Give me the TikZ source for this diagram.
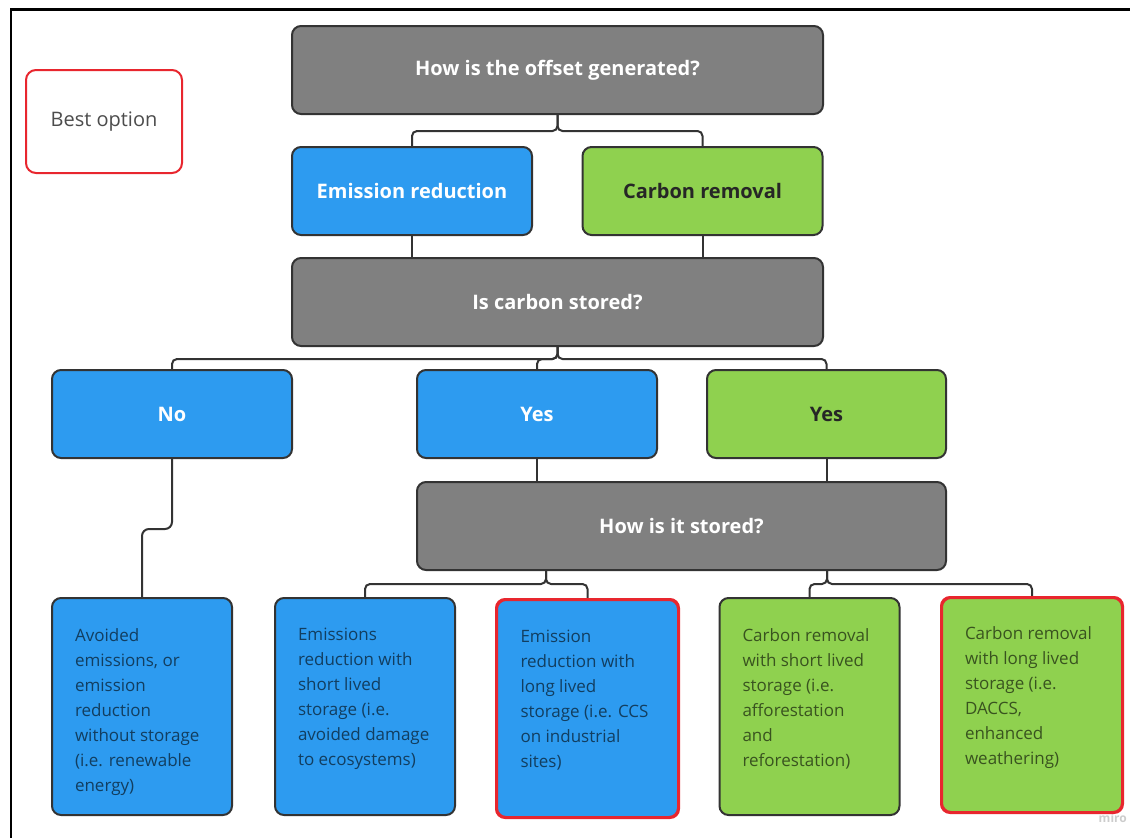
\documentclass[tikz,border=0pt]{standalone}
\usepackage{fontspec}
\setmainfont{Open Sans}
\usetikzlibrary{positioning,calc}

\definecolor{boxGray}{HTML}{808080}
\definecolor{boxBlue}{HTML}{2D9BF0}
\definecolor{boxGreen}{HTML}{8FD14F}
\definecolor{bestRed}{HTML}{E8262E}
\definecolor{lineDark}{HTML}{333333}

\newcommand{\leaftext}[1]{\parbox[c][198pt][t]{134pt}{\vspace*{21pt}\raggedright #1}}

\begin{document}
\begin{tikzpicture}[
  node distance=10pt,
  link/.style={draw=lineDark, line width=2pt, rounded corners=5pt},
  headtext/.style={font=\fontsize{20}{24}\selectfont\bfseries},
  bodytext/.style={font=\fontsize{17}{25}\selectfont, text=black, text opacity=0.6}
]
	\useasboundingbox (0,0) rectangle (1130pt,-838pt);

	\tikzstyle{question} = [rectangle, rounded corners=9pt, minimum width=531pt, minimum height=88pt, draw=lineDark, line width=2pt, fill=boxGray, text=white, headtext]
	\tikzstyle{answerBlue} = [rectangle, rounded corners=9pt, minimum width=240pt, minimum height=88pt, draw=lineDark, line width=2pt, fill=boxBlue, text=white, headtext]
	\tikzstyle{answerGreen} = [rectangle, rounded corners=9pt, minimum width=240pt, minimum height=88pt, draw=lineDark, line width=2pt, fill=boxGreen, text=black!85, headtext]
	\tikzstyle{leafBlue} = [rectangle, rounded corners=9pt, minimum width=180pt, minimum height=217pt, inner sep=0pt, draw=lineDark, line width=2pt, fill=boxBlue, bodytext]
	\tikzstyle{leafGreen} = [rectangle, rounded corners=9pt, minimum width=180pt, minimum height=217pt, inner sep=0pt, draw=lineDark, line width=2pt, fill=boxGreen, bodytext]
	\tikzstyle{best} = [draw=bestRed]

	% frame
	\draw[line width=2pt] (11pt,-838pt) -- (11pt,-9pt);
	\draw[line width=3pt] (10pt,-9pt) -- (1130pt,-9pt);

	% questions and answers
	\node (offsetQuestion) [question] at (557.5pt,-70pt) {How is the offset generated?};
	\node (emissionReduction) [answerBlue, below of=offsetQuestion, node distance=121pt, xshift=-145.5pt] {Emission reduction};
	\node (carbonRemoval) [answerGreen, right of=emissionReduction, node distance=290.5pt] {Carbon removal};
	\node (storedQuestion) [question, below of=offsetQuestion, node distance=232pt] {Is carbon stored?};

	\node (yesReduction) [answerBlue, below of=storedQuestion, node distance=112pt, xshift=-20.5pt] {Yes};
	\node (noStorage) [answerBlue, left of=yesReduction, node distance=365pt] {No};
	\node (yesRemoval) [answerGreen, right of=yesReduction, node distance=289.5pt, minimum width=239pt] {Yes};
	\node (howQuestion) [question, below of=yesReduction, node distance=112pt, xshift=144.5pt, minimum width=529pt] {How is it stored?};

	\node (bestOption) [rectangle, rounded corners=10pt, minimum width=156pt, minimum height=103pt, draw=bestRed, line width=2pt, fill=white, text=black!70, font=\fontsize{20}{24}\selectfont, left of=offsetQuestion, node distance=453.5pt, yshift=-51.5pt] {Best option};

	% storage leaves
	\node (leafShortReduction) [leafBlue, below of=howQuestion, node distance=180.5pt, xshift=-316.5pt] {\leaftext{Emissions\\ reduction with\\ short lived\\ storage (i.e.\\ avoided damage\\ to ecosystems)}};
	\node (leafAvoided) [leafBlue, left of=leafShortReduction, node distance=223pt] {\leaftext{Avoided\\ emissions, or\\ emission\\ reduction\\ without storage\\ (i.e. renewable\\ energy)}};
	\node (leafLongReduction) [leafBlue, best, right of=leafShortReduction, node distance=222.5pt, yshift=-2pt, minimum width=181pt] {\leaftext{Emission\\ reduction with\\ long lived\\ storage (i.e. CCS\\ on industrial\\ sites)}};
	\node (leafShortRemoval) [leafGreen, right of=leafShortReduction, node distance=444.5pt] {\leaftext{Carbon removal\\ with short lived\\ storage (i.e.\\ afforestation\\ and\\ reforestation)}};
	\node (leafLongRemoval) [leafGreen, best, right of=leafShortRemoval, node distance=222.5pt, yshift=1.5pt, minimum height=214pt] {\leaftext{Carbon removal\\ with long lived\\ storage (i.e.\\ DACCS,\\ enhanced\\ weathering)}};

	\node (watermark) [anchor=south east, inner sep=0pt, text=black!20, font=\fontsize{12}{12}\selectfont\bfseries] at ($(leafLongRemoval.south east)+(4pt,-10pt)$) {miro};

	% connectors
	\coordinate (offsetSplit) at ($(offsetQuestion.south)+(0,-16pt)$);
	\draw[link] (offsetQuestion.south) -- (offsetSplit) -| (emissionReduction.north);
	\draw[link] (offsetQuestion.south) -- (offsetSplit) -| (carbonRemoval.north);
	\draw[link] (emissionReduction.south) -- (emissionReduction.south |- storedQuestion.north);
	\draw[link] (carbonRemoval.south) -- (carbonRemoval.south |- storedQuestion.north);

	\coordinate (storedSplit) at ($(storedQuestion.south)+(0,-12pt)$);
	\draw[link] (storedQuestion.south) -- (storedSplit) -| (noStorage.north);
	\draw[link] (storedQuestion.south) -- (storedSplit) -| (yesReduction.north);
	\draw[link] (storedQuestion.south) -- (storedSplit) -| (yesRemoval.north);
	\draw[link] (yesReduction.south) -- (yesReduction.south |- howQuestion.north);
	\draw[link] (yesRemoval.south) -- (yesRemoval.south |- howQuestion.north);

	\draw[link, rounded corners=7pt] (noStorage.south) -- ++(0,-70pt) -| (leafAvoided.north);

	\coordinate (howLeft) at ($(howQuestion.south west)+(130pt,0)$);
	\coordinate (howRight) at ($(howQuestion.south west)+(411pt,0)$);
	\draw[link] (howLeft) -- ++(0,-13pt) -| (leafShortReduction.north);
	\draw[link] (howLeft) -- ++(0,-13pt) -| (leafLongReduction.north);
	\draw[link] (howRight) -- ++(0,-13pt) -| (leafShortRemoval.north);
	\draw[link] (howRight) -- ++(0,-13pt) -| (leafLongRemoval.north);

	% red outlines drawn over the connector ends
	\draw[bestRed, line width=2pt, rounded corners=9pt] (leafLongReduction.south west) rectangle (leafLongReduction.north east);
	\draw[bestRed, line width=2pt, rounded corners=9pt] (leafLongRemoval.south west) rectangle (leafLongRemoval.north east);
\end{tikzpicture}
\end{document}
